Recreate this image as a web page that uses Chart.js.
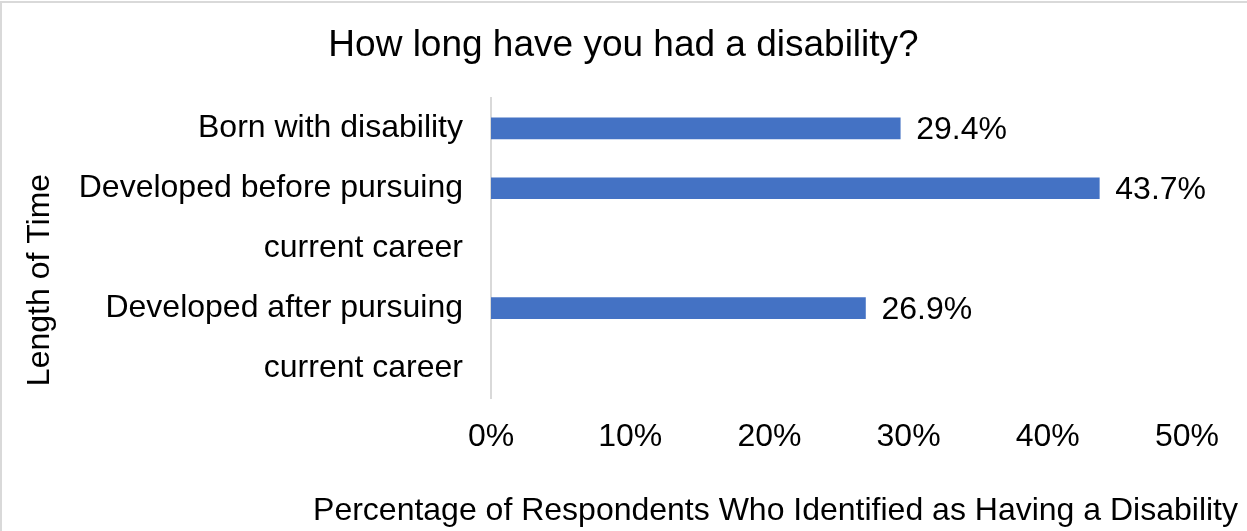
<!DOCTYPE html>
<html>
<head>
<meta charset="utf-8">
<script src="https://cdn.jsdelivr.net/npm/chart.js@4.4.1/dist/chart.umd.min.js"></script>
<style>
html,body{margin:0;padding:0;background:#fff;overflow:hidden;}
#wrap{position:relative;width:1247px;height:531px;}
#frame{position:absolute;left:0;top:1px;width:1300px;height:600px;border-left:2px solid #d9d9d9;border-top:2px solid #d9d9d9;pointer-events:none;}
canvas{position:absolute;left:0;top:0;}
</style>
</head>
<body>
<div id="wrap"><canvas id="c" width="1247" height="531"></canvas><div id="frame"></div></div>
<script>
// ---- data ----
const chartTitle = "How long have you had a disability?";
const categories = [
  ["Born with disability"],
  ["Developed before pursuing", "current career"],
  ["Developed after pursuing", "current career"]
];
const percentages = [29.4, 43.7, 26.9];
const xTickValues = [0, 10, 20, 30, 40, 50];
const xAxisTitle = "Percentage of Respondents Who Identified as Having a Disability";
const yAxisTitle = "Length of Time";

// each label line gets its own row; the bar sits on the first line of its category
const rowLabels = [];
const rowValues = [];
categories.forEach((lines, i) => {
  lines.forEach((ln, j) => {
    rowLabels.push(ln);
    rowValues.push(j === 0 ? percentages[i] : null);
  });
});

const FONT = "'Liberation Sans', Arial, sans-serif";
Chart.defaults.font.family = FONT;
Chart.defaults.color = '#000';

const dataLabels = {
  id: 'dataLabels',
  afterDatasetsDraw(chart) {
    const ctx = chart.ctx;
    const meta = chart.getDatasetMeta(0);
    ctx.save();
    ctx.font = "32px " + FONT;
    ctx.fillStyle = '#000';
    ctx.textAlign = 'left';
    ctx.textBaseline = 'middle';
    meta.data.forEach((el, i) => {
      const v = rowValues[i];
      if (v === null) return;
      ctx.fillText(v.toFixed(1) + '%', el.x + 16, el.y + 2);
    });
    ctx.restore();
  }
};

const axisTitles = {
  id: 'axisTitles',
  afterDraw(chart) {
    const ctx = chart.ctx;
    ctx.save();
    ctx.fillStyle = '#000';
    ctx.font = "32px " + FONT;
    ctx.textBaseline = 'middle';
    ctx.textAlign = 'right';
    ctx.fillText(xAxisTitle, chart.width - 9, 511);
    ctx.translate(40, 280);
    ctx.rotate(-Math.PI / 2);
    ctx.textAlign = 'center';
    ctx.fillText(yAxisTitle, 0, 0);
    ctx.restore();
  }
};

new Chart(document.getElementById('c'), {
  type: 'bar',
  data: {
    labels: rowLabels,
    datasets: [{
      data: rowValues,
      backgroundColor: '#4472C4',
      borderWidth: 0,
      barThickness: 21
    }]
  },
  options: {
    indexAxis: 'y',
    responsive: false,
    animation: false,
    events: [],
    layout: { padding: 0 },
    plugins: {
      legend: { display: false },
      tooltip: { enabled: false },
      title: {
        display: true,
        text: chartTitle,
        color: '#000',
        font: { size: 37, weight: 'normal', family: FONT },
        padding: { top: 24, bottom: 30 }
      }
    },
    scales: {
      x: {
        type: 'linear',
        min: 0,
        max: 50,
        afterBuildTicks(s) { s.ticks = xTickValues.map(v => ({ value: v })); },
        ticks: {
          callback: v => v + '%',
          font: { size: 32 },
          color: '#000',
          padding: 20,
          maxRotation: 0
        },
        grid: { display: false, drawTicks: false },
        border: { display: false },
        afterFit(s) { s.height = 133; }
      },
      y: {
        type: 'category',
        ticks: { font: { size: 32 }, color: '#000', padding: 28, autoSkip: false },
        grid: { display: false, drawTicks: false },
        border: { display: true, color: '#d9d9d9', width: 2 },
        afterFit(s) { s.width = 491; }
      },
      yRight: {
        type: 'linear',
        position: 'right',
        display: true,
        ticks: { display: false },
        grid: { display: false, drawTicks: false },
        border: { display: false },
        afterFit(s) { s.width = 60; }
      }
    }
  },
  plugins: [dataLabels, axisTitles]
});
</script>
</body>
</html>
